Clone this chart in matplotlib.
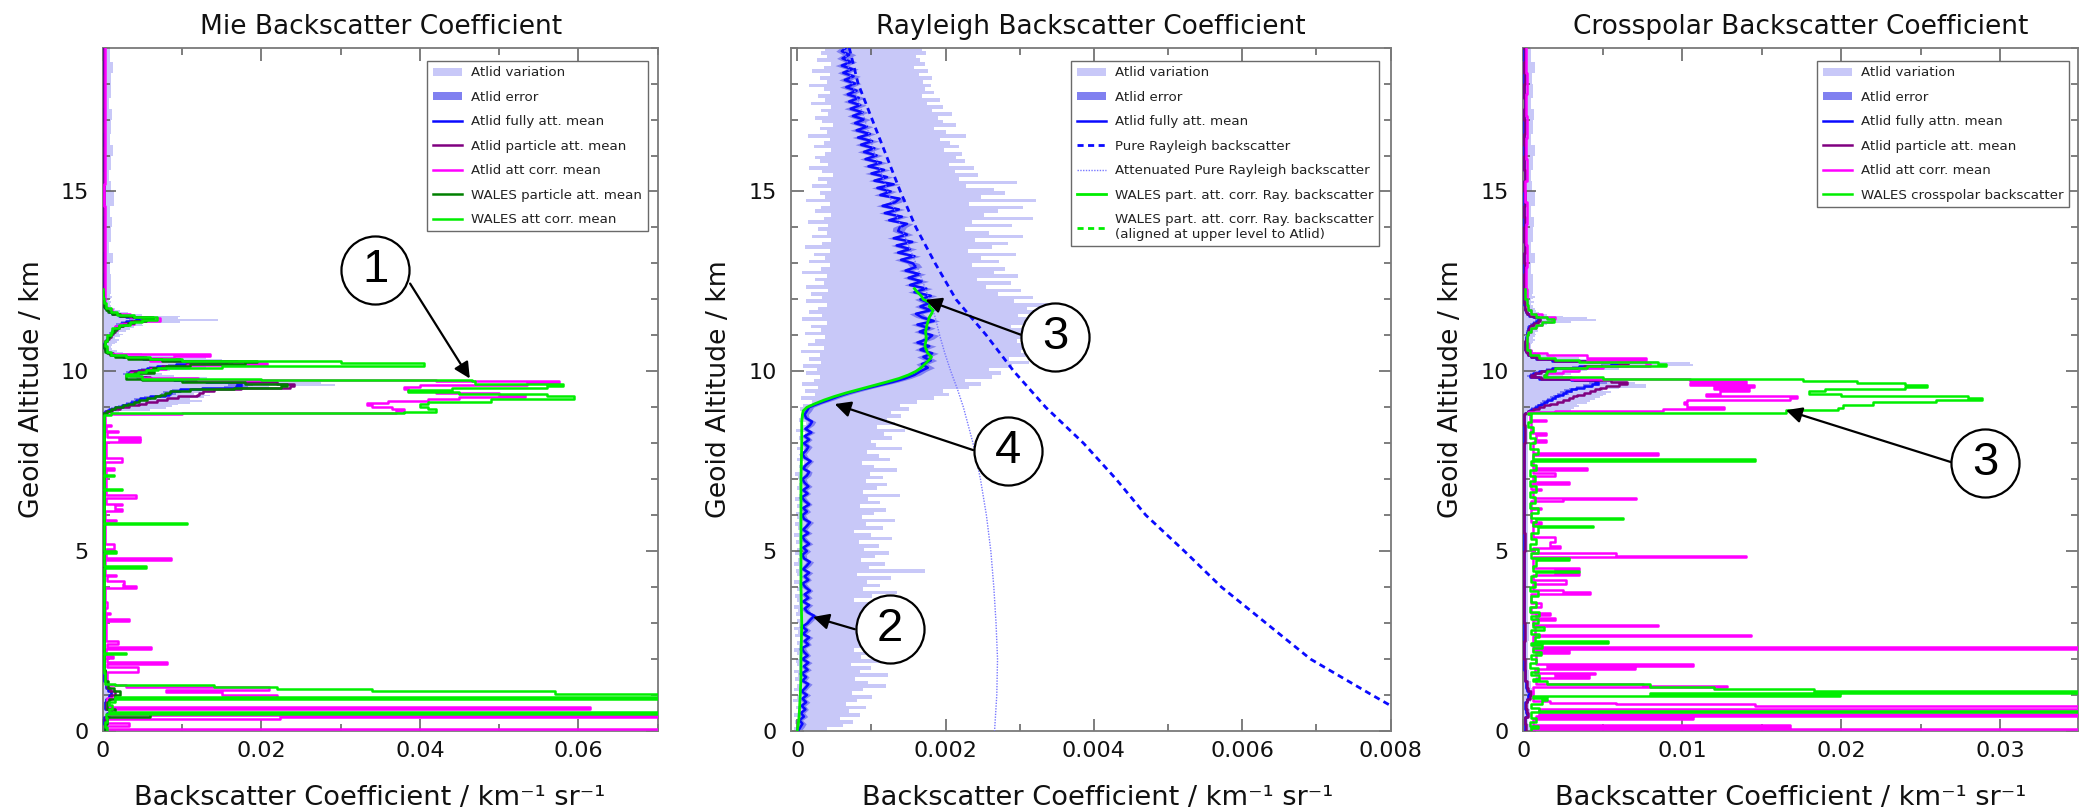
import numpy as np
import matplotlib
matplotlib.use("Agg")
import matplotlib.pyplot as plt
from matplotlib.ticker import FixedLocator, FixedFormatter, MultipleLocator
from matplotlib.lines import Line2D

plt.rcParams['font.family'] = ['DejaVu Sans']

# ---------------------------------------------------------------- colours
C_VAR, C_ERR = '#c8c8f8', '#8080f0'
C_BLUE, C_PURP, C_MAG = '#0a0aff', '#800080', '#ff00ff'
C_DKGR, C_GRN, C_ATT = '#008000', '#00ee00', '#7878ff'

# ---------------------------------------------------------------- titles / labels
TITLES = ['Mie Backscatter Coefficient', 'Rayleigh Backscatter Coefficient',
          'Crosspolar Backscatter Coefficient']
XLABEL = 'Backscatter Coefficient / km\u207b\u00b9 sr\u207b\u00b9'
YLABEL = 'Geoid Altitude / km'
Y_TICKS = [0, 5, 10, 15]
Y_TICKLABELS = ['0', '5', '10', '15']
X_TICKS_MIE = [0, 0.02, 0.04, 0.06]
X_TICKLABELS_MIE = ['0', '0.02', '0.04', '0.06']
X_TICKS_RAY = [0, 0.002, 0.004, 0.006, 0.008]
X_TICKLABELS_RAY = ['0', '0.002', '0.004', '0.006', '0.008']
X_TICKS_CRO = [0, 0.01, 0.02, 0.03]
X_TICKLABELS_CRO = ['0', '0.01', '0.02', '0.03']

# ---------------------------------------------------------------- shared ATLID altitude grid (km)
ALT_M = [0.0, 0.2, 0.4, 0.5, 0.6, 0.8, 0.9, 1.0, 1.1, 1.2, 1.4, 1.7, 2.0, 2.5, 3.0, 3.5, 4.0, 4.5,
         5.0, 5.5, 6.0, 6.5, 7.0, 7.5, 8.0, 8.5,
         8.80, 8.85, 8.90, 8.95, 9.00, 9.05, 9.10, 9.15, 9.20, 9.25,
         9.30, 9.35, 9.40, 9.45, 9.50, 9.55, 9.60, 9.65, 9.70, 9.75,
         9.80, 9.85, 9.90, 9.95, 10.00, 10.05, 10.10, 10.15, 10.20, 10.25,
         10.30, 10.35, 10.40, 10.45, 10.50, 10.55, 10.60, 10.65, 10.70, 10.75,
         10.80, 10.85, 10.90, 10.95, 11.00, 11.05, 11.10, 11.15, 11.20, 11.25,
         11.30, 11.35, 11.40, 11.45, 11.50, 11.55, 11.60, 11.65, 11.70, 11.75,
         11.80, 11.85, 11.90, 11.95, 12.00, 12.05, 12.10, 12.15, 12.20,
         12.4, 12.7, 13.0, 13.3, 13.6, 14.0, 14.3, 14.6, 15.0, 15.3, 15.6, 16.0, 16.3, 16.6,
         17.0, 17.3, 17.6, 18.0, 18.3, 18.6, 19.0]

# ---------------------------------------------------------------- Mie panel (units 1e-3 km-1 sr-1)
MIE_BLUE = [0.3, 0.2, 0.6, 0.9, 0.3, 0.4, 0.8, 1.1, 0.7, 0.4, 0.2, 0.15, 0.1, 0.12, 0.1, 0.1, 0.08, 0.1,
            0.12, 0.08, 0.1, 0.1, 0.08, 0.1, 0.12, 0.1,
            0.1, 0.3, 0.8, 1.5, 2.4, 3.0, 3.6, 4.2, 4.7, 6.0,
            7.8, 8.3, 8.6, 9.8, 12.5, 16.8, 17.4, 16.9, 13.0, 9.0,
            5.5, 4.3, 3.2, 3.5, 4.5, 5.6, 6.8, 9.3, 13.5, 15.7,
            9.0, 5.1, 2.5, 1.2, 0.7, 0.5, 0.3, 0.2, 0.2, 0.2,
            0.3, 0.5, 0.7, 0.9, 1.0, 1.2, 1.4, 1.6, 1.9, 2.2,
            2.3, 3.0, 4.2, 4.6, 3.0, 2.0, 1.2, 0.8, 0.5, 0.3,
            0.2, 0.2, 0.15, 0.15, 0.12, 0.12, 0.1, 0.1, 0.1,
            0.1, 0.12, 0.1, 0.13, 0.11, 0.1, 0.12, 0.1, 0.11, 0.13, 0.1, 0.12, 0.1, 0.11,
            0.1, 0.12, 0.1, 0.11, 0.1, 0.12, 0.1]
MIE_PURP = [0.4, 0.3, 0.8, 1.2, 0.4, 0.5, 1.1, 1.5, 0.9, 0.5, 0.25, 0.18, 0.12, 0.14, 0.12, 0.12, 0.1, 0.12,
            0.14, 0.1, 0.12, 0.12, 0.1, 0.12, 0.14, 0.12,
            0.1, 0.4, 1.2, 2.2, 3.3, 4.6, 5.4, 6.8, 8.1, 9.5,
            11.9, 12.2, 12.6, 14.0, 17.5, 23.6, 24.1, 22.0, 16.0, 10.5,
            6.0, 4.4, 3.3, 3.6, 4.8, 6.0, 7.5, 10.5, 15.5, 17.0,
            9.8, 5.5, 2.7, 1.3, 0.8, 0.5, 0.35, 0.25, 0.22, 0.25,
            0.35, 0.55, 0.8, 1.0, 1.1, 1.3, 1.5, 1.8, 2.1, 2.5,
            2.7, 3.6, 5.0, 5.4, 3.4, 2.2, 1.3, 0.9, 0.55, 0.35,
            0.25, 0.22, 0.18, 0.15, 0.14, 0.13, 0.12, 0.12, 0.12,
            0.12, 0.14, 0.11, 0.15, 0.12, 0.12, 0.14, 0.11, 0.13, 0.15, 0.12, 0.14, 0.11, 0.13,
            0.12, 0.14, 0.11, 0.13, 0.12, 0.14, 0.12]
MIE_VAR = [0.7, 0.5, 0.9, 1.3, 0.6, 0.8, 1.3, 1.7, 1.3, 0.8, 0.5, 0.4, 0.35, 0.4, 0.45, 0.4, 0.35, 0.4,
           0.45, 0.35, 0.4, 0.4, 0.35, 0.4, 0.45, 0.4,
           0.5, 2.0, 6.0, 8.0, 8.7, 9.5, 11.0, 12.5, 11.0, 12.8,
           13.5, 11.5, 13.5, 13.0, 17.0, 21.0, 29.3, 27.5, 22.0, 14.0,
           13.1, 9.0, 7.5, 6.0, 8.5, 11.0, 13.0, 20.7, 20.0, 18.5,
           15.0, 13.0, 10.5, 5.0, 2.5, 1.8, 1.2, 1.0, 1.2, 1.5,
           1.8, 2.0, 1.6, 2.2, 2.5, 2.0, 3.0, 3.5, 4.0, 5.1,
           5.0, 9.8, 14.6, 9.5, 9.8, 5.0, 3.2, 2.2, 1.5, 1.2,
           1.0, 0.9, 1.1, 0.8, 1.0, 1.2, 0.9, 1.1, 1.0,
           1.1, 0.9, 1.3, 0.8, 1.0, 1.2, 0.9, 1.4, 1.0, 0.8, 1.1, 1.3, 0.9, 1.0,
           1.2, 0.8, 1.1, 1.0, 1.3, 0.9, 1.0]
MIE_ERR = [0.08, 0.06, 0.1, 0.15, 0.08, 0.1, 0.15, 0.2, 0.15, 0.1, 0.06, 0.05, 0.05, 0.05, 0.05, 0.05,
           0.04, 0.05, 0.05, 0.04, 0.05, 0.05, 0.04, 0.05, 0.05, 0.05,
           0.1, 0.2, 0.3, 0.4, 0.5, 0.5, 0.6, 0.6, 0.7, 0.8,
           0.9, 0.9, 1.0, 1.1, 1.3, 1.5, 1.6, 1.5, 1.3, 1.0,
           0.8, 0.7, 0.6, 0.6, 0.7, 0.8, 0.9, 1.1, 1.4, 1.5,
           1.0, 0.7, 0.5, 0.3, 0.2, 0.2, 0.15, 0.1, 0.1, 0.1,
           0.15, 0.2, 0.25, 0.3, 0.3, 0.35, 0.4, 0.45, 0.5, 0.6,
           0.6, 0.7, 0.9, 0.9, 0.7, 0.5, 0.35, 0.25, 0.2, 0.15,
           0.1, 0.1, 0.1, 0.1, 0.1, 0.1, 0.1, 0.1, 0.1,
           0.2, 0.25, 0.2, 0.2, 0.25, 0.2, 0.2, 0.25, 0.2, 0.2, 0.25, 0.2, 0.2, 0.25,
           0.2, 0.2, 0.25, 0.2, 0.2, 0.25, 0.2]
# WALES particle attenuated mean: defined on ALT_M up to 12.2 km
MIE_WALES_PART = [0.3, 0.5, 6.0, 1.5, 0.6, 0.8, 1.6, 2.2, 1.4, 0.7, 0.3, 0.2, 0.15, 0.2, 0.15, 0.15, 0.12,
                  0.15, 0.2, 0.12, 0.15, 0.15, 0.12, 0.15, 0.2, 0.15,
                  0.1, 0.5, 1.0, 1.6, 2.5, 3.2, 3.9, 4.6, 5.6, 6.6,
                  7.2, 7.8, 8.5, 11.0, 16.5, 22.5, 23.2, 18.0, 10.0, 5.0,
                  3.0, 2.9, 4.0, 6.5, 5.5, 6.3, 8.0, 11.0, 18.0, 19.5,
                  7.5, 3.2, 1.6, 0.9, 0.5, 0.35, 0.25, 0.2, 0.2, 0.25,
                  0.35, 0.5, 0.7, 0.9, 1.0, 1.2, 1.4, 1.7, 2.1, 2.6,
                  3.2, 4.0, 5.5, 6.3, 3.8, 2.2, 1.2, 0.7, 0.4, 0.25,
                  0.2, 0.15, 0.12, 0.1, 0.1, 0.08, 0.08, 0.05, 0.05]
MIE_MAG_ALT = [0.00, 0.05, 0.15, 0.22, 0.32, 0.38, 0.44, 0.60, 0.66, 0.92, 1.00, 1.08, 1.15, 1.22, 1.28,
               1.64, 1.79, 1.86, 1.92, 2.03, 2.08, 2.27, 2.33, 2.42, 2.50, 3.05, 3.10, 3.24, 3.29, 3.42,
               3.58, 3.98, 4.04, 4.10, 4.16, 4.31, 4.35, 4.76, 4.82, 5.06, 5.20, 5.84, 5.88, 6.13, 6.17,
               6.27, 6.31, 6.49, 6.55, 7.27, 7.31, 7.48, 7.58, 8.03, 8.08, 8.13, 8.16, 8.30, 8.34, 8.48,
               8.52, 8.75, 8.82, 8.85, 8.90, 8.95, 9.00, 9.05, 9.12, 9.18, 9.24, 9.28, 9.34, 9.40, 9.45,
               9.50, 9.56, 9.62, 9.68, 9.72, 9.76, 9.82, 9.88, 9.94, 10.00, 10.06, 10.12, 10.18, 10.24,
               10.30, 10.36, 10.42, 10.48, 10.55, 10.65, 10.75, 10.85, 10.95, 11.05, 11.15, 11.25, 11.32,
               11.40, 11.47, 11.52, 11.58, 11.65, 11.72, 11.80, 12.2, 12.8, 13.4, 14.0, 14.6, 15.2, 15.8,
               16.4, 17.0, 17.6, 18.2, 18.8, 19.0]
MIE_MAG_VAL = [80, 0.4, 3.3, 0.5, 22.4, 80, 0.8, 61.5, 0.6, 22.0, 15.0, 8.0, 21.0, 3.0, 0.5,
               4.4, 0.6, 8.1, 0.5, 1.3, 0.4, 6.1, 0.5, 1.9, 0.4, 3.3, 0.4, 0.9, 0.3, 0.6,
               0.3, 4.2, 2.5, 2.7, 0.5, 1.7, 0.3, 8.6, 0.4, 1.4, 0.3, 1.7, 0.3, 2.4, 1.5,
               2.4, 0.4, 4.2, 0.4, 1.4, 0.3, 2.4, 0.4, 4.7, 2.0, 4.7, 0.5, 1.9, 0.4, 1.0,
               0.3, 0.3, 10.0, 37.0, 38.0, 36.5, 34.0, 33.3, 36.0, 41.0, 45.0, 53.2, 50.0, 42.0, 38.5,
               38.0, 40.0, 53.5, 57.5, 42.0, 12.0, 4.5, 3.4, 6.0, 6.0, 8.0, 10.6, 20.7, 16.5,
               6.0, 9.0, 13.5, 0.8, 0.5, 0.3, 0.3, 0.6, 0.9, 1.2, 1.6, 2.2, 4.0,
               7.2, 6.0, 3.5, 1.6, 1.2, 0.6, 0.3, 0.25, 0.35, 0.25, 0.3, 0.2, 0.35, 0.25,
               0.3, 0.25, 0.35, 0.25, 0.3, 0.3]
MIE_GRN_ALT = [0.00, 0.10, 0.25, 0.35, 0.47, 0.52, 0.62, 0.72, 0.80, 0.88, 0.91, 0.95, 1.03, 1.10, 1.16,
               1.22, 1.27, 1.32, 1.60, 2.14, 2.18, 2.60, 3.20, 3.80, 4.54, 4.58, 4.96, 5.00, 5.75, 5.79,
               6.20, 6.70, 6.74, 7.09, 7.13, 7.80, 8.40, 8.78, 8.83, 8.88, 8.95, 9.02, 9.10, 9.16, 9.22,
               9.30, 9.36, 9.42, 9.48, 9.54, 9.60, 9.66, 9.72, 9.76, 9.80, 9.86, 9.92, 9.98, 10.04, 10.10,
               10.16, 10.22, 10.28, 10.34, 10.40, 10.46, 10.55, 10.70, 10.85, 11.00, 11.10, 11.20, 11.30,
               11.38, 11.44, 11.50, 11.56, 11.65, 11.75, 11.90, 12.05, 12.30]
MIE_GRN_VAL = [0.5, 0.3, 0.6, 0.4, 80, 0.8, 1.2, 0.8, 1.5, 80, 1.5, 80, 57, 34, 22,
               14, 1.5, 0.3, 0.2, 3.0, 0.2, 0.15, 0.2, 0.15, 5.4, 0.2, 1.7, 0.15, 10.6, 0.15,
               0.2, 2.4, 0.15, 1.4, 0.15, 0.2, 0.15, 1.0, 38, 42, 41, 40, 41, 49, 59.4,
               56, 45, 38.5, 44, 56, 58.1, 47, 46.6, 20, 5.0, 3.0, 4.5, 5.5, 7.0, 15,
               40.5, 30, 10, 6, 3.0, 1.0, 0.5, 0.3, 0.5, 1.0, 1.2, 2.0, 3.5,
               5.0, 6.8, 4.0, 1.8, 1.0, 0.4, 0.2, 0.1, 0.1]

# ---------------------------------------------------------------- Crosspolar panel (units 1e-3)
CRO_BLUE = [0.1, 0.08, 0.25, 0.15, 0.12, 0.2, 0.3, 0.35, 0.25, 0.15, 0.08, 0.06, 0.05, 0.06, 0.05, 0.05,
            0.04, 0.05, 0.06, 0.04, 0.05, 0.05, 0.04, 0.05, 0.06, 0.05,
            0.1, 0.3, 0.5, 0.7, 0.9, 1.1, 1.3, 1.5, 1.8, 2.0,
            2.2, 2.5, 2.7, 3.0, 3.3, 3.8, 4.3, 4.7, 4.5, 3.0,
            1.0, 0.4, 0.6, 1.0, 1.4, 1.8, 3.5, 5.5, 6.2, 4.0,
            1.8, 0.8, 0.5, 0.3, 0.2, 0.15, 0.12, 0.1, 0.1, 0.1,
            0.12, 0.15, 0.18, 0.2, 0.22, 0.25, 0.28, 0.3, 0.35, 0.45,
            0.6, 0.8, 0.95, 0.9, 0.6, 0.35, 0.2, 0.15, 0.1, 0.08,
            0.07, 0.06, 0.06, 0.05, 0.05, 0.05, 0.05, 0.05, 0.05,
            0.05, 0.06, 0.05, 0.07, 0.05, 0.06, 0.05, 0.06, 0.05, 0.07, 0.05, 0.06, 0.05, 0.06,
            0.05, 0.07, 0.05, 0.06, 0.05, 0.06, 0.05]
CRO_PURP = [0.15, 0.1, 0.3, 0.2, 0.15, 0.25, 0.4, 0.45, 0.3, 0.2, 0.1, 0.08, 0.06, 0.07, 0.06, 0.06,
            0.05, 0.06, 0.07, 0.05, 0.06, 0.06, 0.05, 0.06, 0.07, 0.06,
            0.1, 0.3, 0.6, 1.0, 1.3, 1.7, 2.1, 2.5, 2.9, 3.1,
            3.4, 3.8, 4.2, 4.5, 4.8, 5.2, 6.0, 6.5, 5.5, 3.2,
            1.1, 0.45, 0.7, 1.1, 1.5, 2.0, 3.8, 6.0, 6.6, 4.2,
            1.9, 0.85, 0.5, 0.3, 0.2, 0.15, 0.12, 0.1, 0.1, 0.1,
            0.13, 0.16, 0.2, 0.22, 0.25, 0.28, 0.3, 0.33, 0.4, 0.5,
            0.65, 0.9, 1.05, 1.0, 0.65, 0.4, 0.22, 0.16, 0.11, 0.09,
            0.08, 0.07, 0.06, 0.06, 0.06, 0.05, 0.05, 0.05, 0.05,
            0.06, 0.07, 0.06, 0.08, 0.06, 0.07, 0.06, 0.07, 0.06, 0.08, 0.06, 0.07, 0.06, 0.07,
            0.06, 0.08, 0.06, 0.07, 0.06, 0.07, 0.06]
CRO_VAR = [0.4, 0.3, 0.5, 0.4, 0.35, 0.45, 0.6, 0.7, 0.55, 0.45, 0.35, 0.3, 0.3, 0.35, 0.3, 0.3, 0.28, 0.3,
           0.32, 0.28, 0.3, 0.3, 0.28, 0.3, 0.32, 0.3,
           0.5, 2.0, 3.0, 3.2, 3.5, 3.4, 4.0, 4.2, 4.5, 4.8,
           5.0, 5.2, 5.5, 5.0, 6.0, 7.7, 7.7, 7.0, 6.5, 4.5,
           3.0, 2.5, 3.0, 3.5, 4.0, 6.0, 8.0, 10.7, 10.5, 8.5,
           5.0, 3.5, 2.0, 1.0, 0.8, 0.6, 0.5, 0.45, 0.5, 0.55,
           0.6, 0.7, 0.6, 0.75, 0.8, 0.7, 0.9, 0.85, 1.0, 1.0,
           1.5, 3.0, 4.6, 4.0, 2.5, 1.5, 1.0, 0.8, 0.7, 0.6,
           0.6, 0.5, 0.65, 0.5, 0.6, 0.7, 0.55, 0.6, 0.6,
           0.6, 0.5, 0.7, 0.45, 0.6, 0.65, 0.5, 0.7, 0.55, 0.45, 0.6, 0.7, 0.5, 0.6,
           0.65, 0.45, 0.6, 0.55, 0.7, 0.5, 0.6]
CRO_ERR = [0.04, 0.03, 0.06, 0.05, 0.04, 0.05, 0.08, 0.1, 0.07, 0.05, 0.03, 0.03, 0.02, 0.03, 0.02, 0.02,
           0.02, 0.02, 0.03, 0.02, 0.02, 0.02, 0.02, 0.02, 0.03, 0.02,
           0.05, 0.1, 0.15, 0.2, 0.2, 0.25, 0.25, 0.3, 0.3, 0.35,
           0.35, 0.4, 0.4, 0.45, 0.45, 0.5, 0.55, 0.55, 0.5, 0.4,
           0.3, 0.2, 0.2, 0.25, 0.3, 0.35, 0.45, 0.6, 0.6, 0.5,
           0.3, 0.2, 0.15, 0.1, 0.08, 0.06, 0.05, 0.05, 0.05, 0.05,
           0.05, 0.06, 0.07, 0.08, 0.08, 0.09, 0.1, 0.1, 0.12, 0.15,
           0.18, 0.22, 0.25, 0.25, 0.2, 0.15, 0.1, 0.08, 0.06, 0.05,
           0.05, 0.05, 0.04, 0.04, 0.04, 0.03, 0.03, 0.03, 0.03,
           0.03, 0.04, 0.03, 0.04, 0.03, 0.04, 0.03, 0.04, 0.03, 0.04, 0.03, 0.04, 0.03, 0.04,
           0.03, 0.04, 0.03, 0.04, 0.03, 0.04, 0.03]
CRO_MAG_ALT = [0.00, 0.05, 0.11, 0.16, 0.33, 0.38, 0.43, 0.47, 0.62, 0.69, 0.74, 0.79, 0.84, 1.22, 1.26,
               1.30, 1.46, 1.52, 1.58, 1.62, 1.72, 1.77, 1.81, 1.85, 2.18, 2.22, 2.29, 2.33, 2.64, 2.68,
               2.92, 2.96, 3.08, 3.13, 3.22, 3.28, 3.45, 3.55, 3.82, 3.87, 3.92, 4.10, 4.20, 4.33, 4.40,
               4.48, 4.52, 4.83, 4.86, 4.94, 5.08, 5.15, 5.25, 5.40, 5.75, 5.80, 6.16, 6.20, 6.40, 6.45,
               6.49, 6.70, 6.74, 6.88, 6.92, 7.10, 7.17, 7.27, 7.31, 7.66, 7.72, 8.04, 8.10, 8.22, 8.28,
               8.62, 8.66, 8.80, 8.86, 8.90, 8.96, 9.02, 9.08, 9.14, 9.20, 9.26, 9.32, 9.38, 9.44, 9.50,
               9.56, 9.62, 9.68, 9.74, 9.78, 9.84, 9.90, 9.96, 10.02, 10.08, 10.14, 10.20, 10.26, 10.32,
               10.38, 10.44, 10.50, 10.60, 10.80, 11.00, 11.10, 11.20, 11.30, 11.38, 11.46, 11.52, 11.60,
               11.70, 11.80, 12.3, 12.9, 13.5, 14.1, 14.7, 15.3, 15.9, 16.5, 17.1, 17.7, 18.3, 19.0]
CRO_MAG_VAL = [40, 0.5, 16.8, 0.6, 10.7, 0.8, 40, 1.0, 40, 14.6, 5.8, 1.7, 0.6, 12.8, 7.5,
               0.8, 4.1, 2.0, 4.5, 0.7, 7.0, 1.5, 10.7, 0.8, 2.9, 0.6, 40, 0.6, 14.3, 0.7,
               8.5, 0.6, 2.0, 0.8, 1.7, 0.5, 1.1, 0.5, 4.2, 2.5, 0.6, 2.7, 0.6, 3.5, 2.0,
               3.5, 0.6, 14.0, 5.8, 0.6, 2.3, 1.7, 2.0, 0.6, 1.1, 0.5, 1.1, 0.5, 2.5, 7.1,
               0.6, 1.1, 0.5, 2.9, 0.6, 2.0, 0.6, 4.0, 0.6, 8.5, 0.6, 1.4, 0.8, 1.4, 0.5,
               1.4, 0.4, 0.3, 2.0, 8.8, 12.6, 10.3, 10.1, 10.3, 16.8, 17.2, 11.5, 12.4, 14.2, 12.0,
               14.5, 10.5, 14.0, 10.5, 3.0, 1.3, 1.5, 2.5, 3.5, 5.0, 8.0, 7.7, 4.0, 7.7,
               4.0, 1.5, 0.5, 0.3, 0.2, 0.3, 0.5, 0.8, 1.2, 1.8, 2.0, 1.2, 0.5,
               0.3, 0.2, 0.15, 0.2, 0.15, 0.2, 0.12, 0.2, 0.15, 0.2, 0.15, 0.2, 0.15, 0.15]
CRO_GRN_ALT = [0.00, 0.08, 0.15, 0.25, 0.35, 0.53, 0.56, 0.65, 0.75, 0.86, 0.92, 0.98, 1.03, 1.07, 1.11,
               1.16, 1.22, 1.30, 1.38, 1.45, 1.55, 1.65, 1.75, 1.90, 2.00, 2.10, 2.20, 2.30, 2.38, 2.46,
               2.50, 2.60, 2.70, 2.80, 2.88, 3.00, 3.10, 3.20, 3.30, 3.45, 3.60, 3.75, 3.90, 4.00, 4.15,
               4.30, 4.41, 4.45, 4.60, 4.75, 4.80, 4.95, 5.05, 5.20, 5.35, 5.50, 5.67, 5.71, 5.80, 5.89,
               5.93, 6.05, 6.20, 6.35, 6.50, 6.65, 6.80, 6.95, 7.10, 7.25, 7.40, 7.51, 7.55, 7.70, 7.85,
               8.00, 8.15, 8.30, 8.45, 8.60, 8.80, 8.84, 8.92, 8.98, 9.06, 9.14, 9.20, 9.26, 9.32, 9.38,
               9.44, 9.50, 9.56, 9.62, 9.68, 9.74, 9.78, 9.84, 9.90, 9.96, 10.02, 10.08, 10.14, 10.20,
               10.26, 10.32, 10.38, 10.46, 10.60, 10.80, 11.00, 11.10, 11.20, 11.30, 11.38, 11.46, 11.52,
               11.60, 11.70, 11.85, 12.00, 12.30]
CRO_GRN_VAL = [0.5, 0.9, 0.4, 0.8, 0.5, 40, 1.0, 0.5, 1.2, 1.5, 0.6, 19.9, 8.0, 40, 18.3,
               12.0, 8.0, 1.5, 0.6, 1.0, 0.5, 0.9, 0.4, 0.8, 0.5, 1.1, 0.6, 1.2, 0.5, 5.35,
               0.7, 1.0, 0.5, 1.3, 0.6, 0.9, 0.5, 1.0, 0.4, 0.8, 0.5, 0.9, 0.4, 0.7, 0.5,
               0.8, 3.5, 0.6, 0.8, 2.9, 0.5, 0.9, 0.4, 0.8, 0.5, 0.9, 4.4, 0.6, 0.8, 6.3,
               0.5, 0.9, 0.4, 0.7, 0.4, 0.8, 0.4, 0.7, 0.4, 0.8, 0.5, 14.6, 0.6, 0.9, 0.4,
               0.7, 0.4, 0.6, 0.3, 0.5, 0.3, 16.5, 19.8, 20.1, 22.0, 26.0, 28.9, 28.0, 20.0, 18.0,
               19.0, 24.0, 25.4, 24.0, 21.0, 17.6, 5.0, 1.3, 1.4, 1.5, 2.0, 4.0, 9.0, 8.5,
               3.5, 2.0, 1.0, 0.4, 0.2, 0.2, 0.3, 0.5, 0.8, 1.2, 1.9, 1.5, 0.8,
               0.5, 0.3, 0.2, 0.1, 0.1]

# ---------------------------------------------------------------- Rayleigh panel (units 1e-5 km-1 sr-1)
ALT_R = [0.0, 0.1, 0.2, 0.3, 0.4, 0.5, 0.6, 0.7, 0.8, 0.9,
         1.0, 1.1, 1.2, 1.3, 1.4, 1.5, 1.6, 1.7, 1.8, 1.9,
         2.0, 2.1, 2.2, 2.3, 2.4, 2.5, 2.6, 2.7, 2.8, 2.9,
         3.0, 3.1, 3.2, 3.3, 3.4, 3.5, 3.6, 3.7, 3.8, 3.9,
         4.0, 4.1, 4.2, 4.3, 4.4, 4.5, 4.6, 4.7, 4.8, 4.9,
         5.0, 5.1, 5.2, 5.3, 5.4, 5.5, 5.6, 5.7, 5.8, 5.9,
         6.0, 6.1, 6.2, 6.3, 6.4, 6.5, 6.6, 6.7, 6.8, 6.9,
         7.0, 7.1, 7.2, 7.3, 7.4, 7.5, 7.6, 7.7, 7.8, 7.9,
         8.0, 8.1, 8.2, 8.3, 8.4, 8.5, 8.6, 8.7, 8.8, 8.9,
         9.0, 9.1, 9.2, 9.3, 9.4, 9.5, 9.6, 9.7, 9.8, 9.9,
         10.0, 10.1, 10.2, 10.3, 10.4, 10.5, 10.6, 10.7, 10.8, 10.9,
         11.0, 11.1, 11.2, 11.3, 11.4, 11.5, 11.6, 11.7, 11.8, 11.9,
         12.0, 12.1, 12.2, 12.3, 12.4, 12.5, 12.6, 12.7, 12.8, 12.9,
         13.0, 13.1, 13.2, 13.3, 13.4, 13.5, 13.6, 13.7, 13.8, 13.9,
         14.0, 14.1, 14.2, 14.3, 14.4, 14.5, 14.6, 14.7, 14.8, 14.9,
         15.0, 15.1, 15.2, 15.3, 15.4, 15.5, 15.6, 15.7, 15.8, 15.9,
         16.0, 16.1, 16.2, 16.3, 16.4, 16.5, 16.6, 16.7, 16.8, 16.9,
         17.0, 17.1, 17.2, 17.3, 17.4, 17.5, 17.6, 17.7, 17.8, 17.9,
         18.0, 18.1, 18.2, 18.3, 18.4, 18.5, 18.6, 18.7, 18.8, 18.9,
         19.0]
RAY_MEAN = [1, 4, 7, 3, 9, 5, 11, 6, 12, 7,
            13, 6, 11, 15, 7, 12, 6, 14, 9, 15,
            7, 14, 9, 6, 15, 10, 16, 8, 13, 7,
            14, 18, 23, 14, 10, 16, 8, 15, 10, 17,
            11, 7, 15, 10, 16, 8, 13, 17, 9, 7,
            13, 8, 16, 10, 7, 15, 8, 13, 17, 9,
            7, 13, 8, 16, 10, 6, 14, 8, 15, 10,
            7, 13, 16, 8, 12, 18, 10, 7, 12, 15,
            9, 16, 10, 19, 11, 17, 20, 12, 10, 13,
            16, 28, 42, 55, 70, 88, 108, 128, 145, 158,
            166, 176, 168, 180, 170, 182, 166, 178, 162, 176,
            182, 165, 178, 162, 184, 168, 160, 180, 166, 178,
            166, 180, 158, 174, 152, 168, 150, 165, 146, 160,
            156, 140, 158, 136, 152, 134, 155, 130, 148, 136,
            138, 148, 124, 141, 118, 137, 115, 132, 138, 112,
            126, 108, 130, 104, 121, 100, 117, 96, 113, 92,
            107, 90, 104, 86, 101, 82, 98, 80, 94, 78,
            90, 75, 88, 72, 85, 70, 83, 68, 80, 66,
            78, 64, 76, 62, 74, 60, 72, 61, 70, 60,
            66]
RAY_ERR = [4, 5, 5, 4, 5, 5, 4, 5, 5, 4,
           5, 5, 4, 5, 5, 4, 5, 5, 4, 5,
           5, 4, 5, 5, 4, 5, 5, 4, 5, 5,
           4, 5, 5, 4, 5, 5, 4, 5, 5, 4,
           5, 5, 4, 5, 5, 4, 5, 5, 4, 5,
           5, 4, 5, 5, 4, 5, 5, 4, 5, 5,
           4, 5, 5, 4, 5, 5, 4, 5, 5, 4,
           5, 5, 4, 5, 5, 4, 5, 5, 4, 5,
           5, 4, 5, 5, 4, 5, 5, 4, 5, 6,
           6, 6, 7, 7, 8, 8, 8, 8, 8, 8,
           8, 9, 8, 8, 9, 8, 8, 9, 8, 8,
           9, 8, 8, 9, 8, 8, 9, 8, 8, 9,
           8, 8, 9, 8, 8, 9, 8, 8, 9, 8,
           8, 9, 8, 8, 9, 8, 8, 9, 8, 8,
           9, 8, 8, 9, 8, 8, 9, 8, 8, 9,
           8, 8, 9, 8, 8, 9, 8, 8, 9, 8,
           8, 9, 8, 8, 9, 8, 8, 9, 8, 8,
           9, 8, 8, 9, 8, 8, 9, 8, 8, 9,
           8, 8, 9, 8, 8, 9, 8, 8, 9, 8,
           8]
RAY_VAR_HI = [40, 62, 75, 58, 85, 70, 92, 66, 80, 101,
              74, 88, 120, 95, 78, 123, 84, 99, 72, 110,
              86, 131, 77, 95, 118, 82, 104, 90, 126, 79,
              98, 115, 84, 122, 92, 108, 76, 101, 135, 88,
              112, 94, 127, 80, 172, 97, 118, 86, 105, 124,
              90, 110, 83, 128, 99, 77, 116, 93, 132, 87,
              104, 120, 85, 111, 96, 138, 89, 107, 121, 92,
              115, 98, 134, 103, 87, 125, 110, 94, 141, 106,
              99, 128, 117, 145, 108, 132, 121, 140, 126, 150,
              138, 162, 185, 204, 196, 232, 248, 226, 262, 275,
              258, 290, 312, 285, 340, 302, 365, 318, 296, 372,
              305, 342, 288, 325, 356, 298, 334, 310, 347, 292,
              318, 270, 302, 255, 288, 242, 297, 265, 280, 236,
              272, 248, 295, 230, 262, 284, 240, 305, 258, 226,
              290, 236, 318, 252, 270, 305, 232, 322, 248, 280,
              265, 228, 296, 218, 244, 212, 238, 205, 226, 214,
              222, 198, 218, 206, 192, 228, 200, 185, 214, 196,
              190, 208, 182, 196, 175, 192, 168, 185, 172, 180,
              170, 182, 164, 176, 158, 172, 166, 160, 174, 168,
              162]
RAY_VAR_LO = [-5, 0, -3, 2, -4, 1, -2, 3, -6, 0,
              2, -4, 0, 4, -3, 1, -5, 2, 0, -2,
              3, -1, -5, 2, 0, 5, -3, 1, -4, 2,
              0, 4, -2, 1, -5, 3, 0, -3, 5, -1,
              2, -4, 6, 0, -2, 3, -5, 1, 4, -3,
              0, 5, -2, 2, -4, 6, 1, -3, 3, 0,
              -2, 4, 0, 7, -3, 2, 5, -1, 3, 8,
              1, -3, 6, 2, 9, -1, 4, 10, 0, 5,
              7, 2, 11, -2, 6, 12, 3, 8, 14, 4,
              8, 20, 5, 24, 10, 28, 6, 22, 30, 12,
              26, 8, 32, 16, 30, 5, 36, 14, 24, 38,
              10, 32, 18, 40, 6, 34, 16, 28, 40, 12,
              34, 18, 42, 12, 36, 24, 40, 6, 32, 44,
              16, 38, 22, 44, 10, 34, 46, 20, 40, 28,
              42, 14, 36, 46, 24, 32, 44, 12, 38, 30,
              46, 20, 40, 28, 48, 34, 16, 42, 30, 24,
              38, 46, 22, 36, 44, 14, 40, 30, 48, 34,
              24, 42, 32, 46, 18, 38, 28, 44, 36, 16,
              40, 30, 44, 20, 36, 46, 26, 40, 32, 38,
              28]
ALT_PURE = [19.0, 18.0, 17.0, 16.0, 15.0, 14.0, 13.0, 12.0, 11.0, 10.0, 9.0, 8.0, 7.0, 6.0, 5.0,
            4.0, 3.0, 2.0, 1.0, 0.0]
RAY_PURE = [70, 82, 101, 120, 139, 160, 186, 214, 255, 292, 335, 386, 430, 470, 522,
            572, 632, 692, 775, 860]
ALT_ATT = [19.0, 18.0, 17.0, 16.0, 15.0, 14.0, 13.0, 12.0, 11.5, 11.0, 10.5, 10.0, 9.5, 9.0, 8.0,
           7.0, 6.0, 5.0, 4.0, 3.0, 2.0, 1.0, 0.0]
RAY_ATT = [63, 74, 91, 105, 122, 140, 160, 178, 186, 192, 199, 207, 216, 224, 237,
           247, 255, 261, 265, 268, 270, 269, 266]
ALT_WALES_R = [0.0, 0.3, 0.6, 1.0, 1.5, 2.0, 3.0, 4.0, 5.0, 6.0, 7.0, 8.0, 8.6, 8.8, 8.9, 9.0, 9.1,
               9.2, 9.3, 9.4, 9.5, 9.6, 9.7, 9.8, 9.9, 10.0, 10.1, 10.2, 10.3, 10.4, 10.5, 10.7,
               10.9, 11.1, 11.3, 11.5, 11.6, 11.7, 11.8, 11.9, 12.0, 12.1, 12.2, 12.3]
RAY_WALES = [0, 2, 3, 4, 5, 5, 6, 5, 5, 5, 5, 6, 6, 7, 8, 13, 24,
             36, 50, 66, 84, 102, 120, 137, 150, 160, 167, 172, 177, 181, 176, 172,
             174, 173, 175, 178, 181, 183, 178, 180, 170, 167, 162, 158]

# ---------------------------------------------------------------- callouts (number, circle centre, arrow tail, arrow tip)
CALLOUTS_MIE = [('1', (0.03436, 12.81), (0.03877, 12.44), (0.04630, 9.80))]
CALLOUTS_RAY = [('3', (0.003476, 10.96), (0.003010, 11.02), (0.001730, 11.99)),
                ('4', (0.002843, 7.79), (0.002371, 7.81), (0.000505, 9.09)),
                ('2', (0.001247, 2.83), (0.000775, 2.83), (0.000212, 3.17))]
CALLOUTS_CRO = [('3', (0.02906, 7.44), (0.02696, 7.47), (0.01653, 8.92))]

# ================================================================ drawing
FIG_W, FIG_H = 2079, 811
fig = plt.figure(figsize=(FIG_W / 100, FIG_H / 100), dpi=100)
fig.patch.set_facecolor('white')

AX_BOTTOM, AX_TOP = 731, 47.6
rects_px = [(102.7, 555.8), (790.6, 600.0), (1522.6, 555.2)]
axes = []
for left, width in rects_px:
    ax = fig.add_axes([left / FIG_W, (FIG_H - AX_BOTTOM) / FIG_H, width / FIG_W,
                       (AX_BOTTOM - AX_TOP) / FIG_H])
    axes.append(ax)
ax1, ax2, ax3 = axes

LW = 1.8


def style_axis(ax, title, xticks, xticklabels, xminor, xlim, xlabel_x, ylabel_x):
    ax.set_xlim(*xlim)
    ax.set_ylim(0, 19)
    ax.xaxis.set_major_locator(FixedLocator(xticks))
    ax.xaxis.set_major_formatter(FixedFormatter(xticklabels))
    ax.xaxis.set_minor_locator(MultipleLocator(xminor))
    ax.yaxis.set_major_locator(FixedLocator(Y_TICKS))
    ax.yaxis.set_major_formatter(FixedFormatter(Y_TICKLABELS))
    ax.yaxis.set_minor_locator(MultipleLocator(1))
    ax.tick_params(which='both', direction='in', top=True, right=True,
                   color='#5a5a5a', labelcolor='#111111', labelsize=16)
    ax.tick_params(which='major', length=9, width=1.1)
    ax.tick_params(which='minor', length=5, width=1.1)
    ax.tick_params(axis='x', pad=7)
    ax.tick_params(axis='y', pad=10)
    for sp in ax.spines.values():
        sp.set_color('#7a7a7a')
        sp.set_linewidth(1.3)
    ax.set_title(title, fontsize=19, pad=10, color='#111111')
    ax.set_xlabel(XLABEL, fontsize=19.6, color='#111111')
    ax.set_ylabel(YLABEL, fontsize=19.3, color='#111111')
    ax.xaxis.set_label_coords(xlabel_x, -0.079)
    ax.yaxis.set_label_coords(ylabel_x, 0.5)


def legend(ax, handles, labels, gap_right, width_px):
    leg = ax.legend(handles, labels, loc='upper right',
                    bbox_to_anchor=(1 - gap_right / width_px, 1 - 13.4 / (AX_BOTTOM - AX_TOP)),
                    borderaxespad=0, fontsize=9.6, frameon=True, fancybox=False,
                    edgecolor='#6a6a6a', framealpha=1, handlelength=2.2, handleheight=0.55,
                    handletextpad=0.7, borderpad=0.4, labelspacing=0.86)
    leg.get_frame().set_linewidth(1.0)
    for t in leg.get_texts():
        t.set_color('#222222')
    leg.set_zorder(30)


def callouts(ax, items):
    for label, centre, tail, tip in items:
        ax.annotate('', xy=tip, xytext=tail,
                    arrowprops=dict(arrowstyle='-|>', color='black', lw=1.6,
                                    mutation_scale=24, shrinkA=0, shrinkB=0), zorder=19)
        ax.plot([centre[0]], [centre[1]], marker='o', ms=49, mfc='white', mec='black',
                mew=1.6, zorder=20, clip_on=False)
        ax.text(centre[0], centre[1], label, ha='center', va='center', fontsize=34,
                family=['Liberation Sans', 'DejaVu Sans'], color='black', zorder=21)


def atlid_block(ax, scale, blue, purp, var, err):
    alt = np.array(ALT_M)
    b = np.array(blue) * scale
    e = np.array(err) * scale
    hv = ax.fill_betweenx(alt, 0, np.array(var) * scale, step='post', color=C_VAR, lw=0, zorder=1)
    he = ax.fill_betweenx(alt, b - e, b + e, step='post', color=C_ERR, lw=0, zorder=2)
    hb, = ax.plot(b, alt, drawstyle='steps-pre', color=C_BLUE, lw=LW, zorder=3)
    hp, = ax.plot(np.array(purp) * scale, alt, drawstyle='steps-pre', color=C_PURP, lw=LW, zorder=4)
    return hv, he, hb, hp


# ---------------- Mie
s = 1e-3
hv, he, hb, hp = atlid_block(ax1, s, MIE_BLUE, MIE_PURP, MIE_VAR, MIE_ERR)
hm, = ax1.plot(np.array(MIE_MAG_VAL) * s, MIE_MAG_ALT, drawstyle='steps-pre', color=C_MAG, lw=LW, zorder=5)
hd, = ax1.plot(np.array(MIE_WALES_PART) * s, ALT_M[:len(MIE_WALES_PART)], drawstyle='steps-pre',
               color=C_DKGR, lw=LW, zorder=6)
hg, = ax1.plot(np.array(MIE_GRN_VAL) * s, MIE_GRN_ALT, drawstyle='steps-pre', color=C_GRN, lw=LW, zorder=7)
style_axis(ax1, TITLES[0], X_TICKS_MIE, X_TICKLABELS_MIE, 0.01, (0, 0.0701), 0.48, -0.104)
legend(ax1, [hv, he, hb, hp, hm, hd, hg],
       ['Atlid variation', 'Atlid error', 'Atlid fully att. mean', 'Atlid particle att. mean',
        'Atlid att corr. mean', 'WALES particle att. mean', 'WALES att corr. mean'], 10.8, 555.8)
callouts(ax1, CALLOUTS_MIE)

# ---------------- Rayleigh
s = 1e-5
alt = np.array(ALT_R)
mean = np.array(RAY_MEAN) * s
err = np.array(RAY_ERR) * s
hv2 = ax2.fill_betweenx(alt, np.array(RAY_VAR_LO) * s, np.array(RAY_VAR_HI) * s, step='post',
                        color=C_VAR, lw=0, zorder=1)
he2 = ax2.fill_betweenx(alt, mean - err, mean + err, color=C_ERR, lw=0, zorder=2)
hb2, = ax2.plot(mean, alt, color=C_BLUE, lw=1.8, zorder=3)
hpr, = ax2.plot(np.array(RAY_PURE) * s, ALT_PURE, color=C_BLUE, lw=2.0, dashes=(2.2, 1.6), zorder=4)
hat, = ax2.plot(np.array(RAY_ATT) * s, ALT_ATT, color=C_ATT, lw=1.0, ls=(0, (1, 1)), zorder=4)
hw, = ax2.plot(np.array(RAY_WALES) * s, ALT_WALES_R, color=C_GRN, lw=2.0, zorder=6)
hw2 = Line2D([], [], color=C_GRN, lw=2.0, dashes=(2.2, 1.6))
style_axis(ax2, TITLES[1], X_TICKS_RAY, X_TICKLABELS_RAY, 0.001, (-0.00009, 0.008), 0.512, -0.098)
legend(ax2, [hv2, he2, hb2, hpr, hat, hw, hw2],
       ['Atlid variation', 'Atlid error', 'Atlid fully att. mean', 'Pure Rayleigh backscatter',
        'Attenuated Pure Rayleigh backscatter', 'WALES part. att. corr. Ray. backscatter',
        'WALES part. att. corr. Ray. backscatter\n(aligned at upper level to Atlid)'], 11.6, 600.0)
callouts(ax2, CALLOUTS_RAY)

# ---------------- Crosspolar
s = 1e-3
hv3, he3, hb3, hp3 = atlid_block(ax3, s, CRO_BLUE, CRO_PURP, CRO_VAR, CRO_ERR)
hm3, = ax3.plot(np.array(CRO_MAG_VAL) * s, CRO_MAG_ALT, drawstyle='steps-pre', color=C_MAG, lw=LW, zorder=5)
hg3, = ax3.plot(np.array(CRO_GRN_VAL) * s, CRO_GRN_ALT, drawstyle='steps-pre', color=C_GRN, lw=LW, zorder=7)
style_axis(ax3, TITLES[2], X_TICKS_CRO, X_TICKLABELS_CRO, 0.005, (-0.00005, 0.0349), 0.483, -0.106)
legend(ax3, [hv3, he3, hb3, hp3, hm3, hg3],
       ['Atlid variation', 'Atlid error', 'Atlid fully attn. mean', 'Atlid particle att. mean',
        'Atlid att corr. mean', 'WALES crosspolar backscatter'], 8.5, 555.2)
callouts(ax3, CALLOUTS_CRO)

fig.savefig('out.png', dpi=100, facecolor='white')
